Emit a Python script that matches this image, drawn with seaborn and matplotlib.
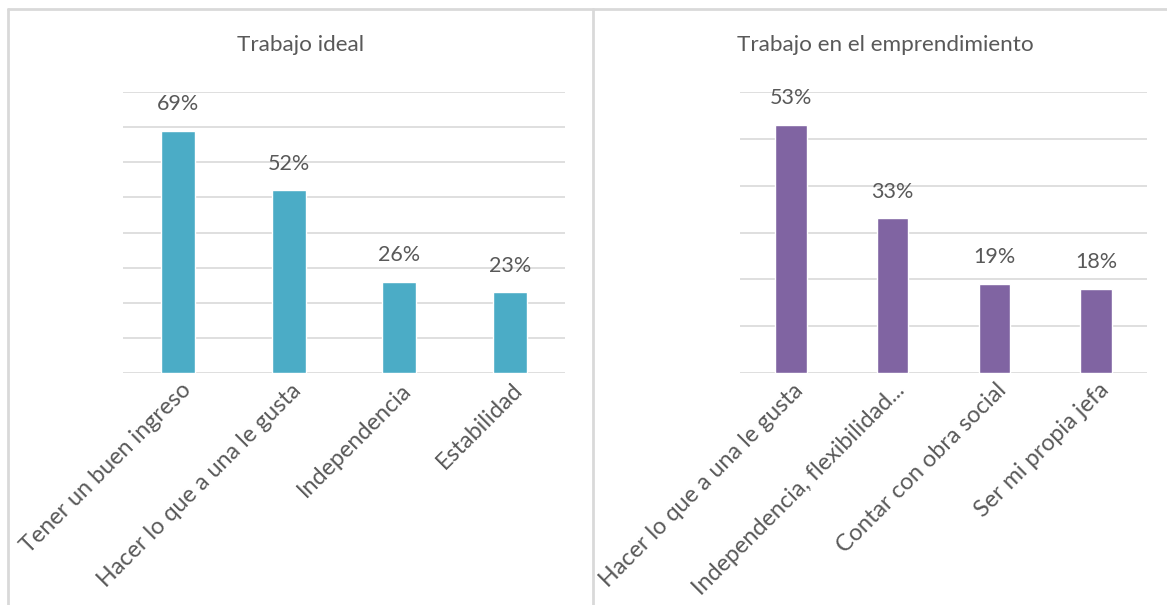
import matplotlib
matplotlib.use("Agg")
import matplotlib.pyplot as plt
import matplotlib.transforms as mtransforms
from matplotlib.lines import Line2D
import seaborn as sns
import pandas as pd

# Data
ideal_cats = ["Tener un buen ingreso", "Hacer lo que a una le gusta", "Independencia", "Estabilidad"]
ideal_vals = [69, 52, 26, 23]
empr_cats = ["Hacer lo que a una le gusta", "Independencia, flexibilidad...", "Contar con obra social", "Ser mi propia jefa"]
empr_vals = [53, 33, 19, 18]

sns.set_style("white")
plt.rcParams['font.family'] = ['Lato', 'DejaVu Sans']

TEXT = "#595959"
GRID = "#D9D9D9"

fig = plt.figure(figsize=(11.67, 6.05), dpi=100)
W, H = 1167, 605


def panel(rect, cats, vals, color, ymax, title, title_x):
    ax = fig.add_axes([rect[0] / W, 1 - rect[3] / H, (rect[2] - rect[0]) / W, (rect[3] - rect[1]) / H])
    df = pd.DataFrame({"cat": cats, "val": vals})
    sns.barplot(data=df, x="cat", y="val", color=color, width=0.31, saturation=1, ax=ax)
    ax.set_ylim(0, ymax)
    ax.set_yticks(range(0, ymax + 1, 10))
    ax.set_yticklabels([])
    ax.yaxis.grid(True, color=GRID, linewidth=1.2)
    ax.set_axisbelow(True)
    for s in ax.spines.values():
        s.set_visible(False)
    ax.tick_params(axis='both', length=0)
    ax.set_xlabel("")
    ax.set_ylabel("")
    ax.bar_label(ax.containers[0], fmt="%.0f%%", padding=12, fontsize=15.5, color=TEXT)
    ax.set_xticks(range(len(cats)))
    ax.set_xticklabels(cats, rotation=45, ha="right", va="center", rotation_mode="anchor",
                       fontsize=16.8, color=TEXT)
    off = mtransforms.ScaledTranslation(9 / 100, -9 / 100, fig.dpi_scale_trans)
    for lab in ax.get_xticklabels():
        lab.set_transform(lab.get_transform() + off)
    fig.text(title_x / W, 1 - 45 / H, title, ha="center", va="center", fontsize=16.2, color=TEXT)
    return ax


panel((123, 92, 565, 373), ideal_cats, ideal_vals, "#4BACC6", 80, "Trabajo ideal", 301)
panel((740, 92, 1147, 373), empr_cats, empr_vals, "#8064A2", 60, "Trabajo en el emprendimiento", 885)

# panel borders
fig.add_artist(Line2D([8 / W, 1], [1 - 9 / H, 1 - 9 / H], color=GRID, linewidth=2))
fig.add_artist(Line2D([8 / W, 8 / W], [0, 1 - 9 / H], color=GRID, linewidth=2))
fig.add_artist(Line2D([593 / W, 593 / W], [0, 1 - 9 / H], color=GRID, linewidth=2))

fig.savefig("out.png", dpi=100, facecolor="white")
